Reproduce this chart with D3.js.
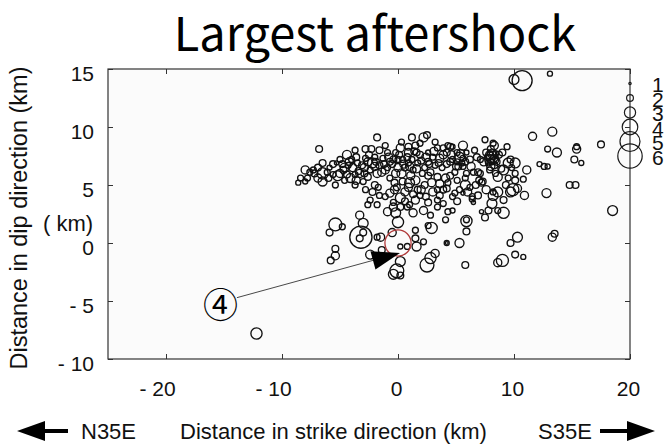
<!DOCTYPE html>
<html><head><meta charset="utf-8">
<script src="https://cdn.jsdelivr.net/npm/d3@7"></script>
<style>
body{margin:0;background:#fff}
svg{display:block}
text{font-family:"Liberation Sans",Arial,sans-serif;fill:#111}
</style>
</head><body>
<svg id="c" width="666" height="444"></svg>
<script>
// ---- data (km along strike / dip, magnitude) ----
const strikeKm = [
10.7,10.0,13.1,11.6,13.3,12.9,13.7,15.4,15.4,15.2,
15.8,17.5,12.2,12.6,12.9,14.8,15.3,12.8,18.5,10.9,
9.9,10.3,9.1,9.4,10.1,9.7,11.1,10.8,10.1,9.1,
5.6,6.4,7.2,8.2,8.1,9.1,9.7,5.9,5.9,5.9,
7.8,8.6,7.2,6.5,10.3,9.7,10.1,10.8,9.0,13.3,
13.5,5.3,4.2,4.2,8.6,7.5,-12.2,-5.4,-5.9,-4.8,
-3.2,-3.0,-3.3,-3.3,-3.0,-5.4,-5.4,-5.8,-2.4,-1.5,
-1.4,-0.5,-0.2,0.0,-0.4,0.2,0.8,1.5,1.6,1.5,
2.9,2.6,2.2,2.8,2.5,3.2,5.8,0.2,-0.1,-0.4,
0.2,4.3,-2.6,-1.8,-0.9,0.2,0.8,1.3,2.2,3.4,
4.7,-1.8,-6.8,-1.8,-8.0,-7.2,-8.6,-8.0,-7.8,-6.5,
-6.5,-6.5,-6.1,-5.9,-5.6,-5.3,-4.4,-4.6,-4.3,-3.9,
-4.1,-3.5,-3.3,-2.8,-2.3,-2.6,-2.2,-2.4,-1.8,-3.0,
-2.2,-1.7,-2.4,-0.9,-0.7,-1.1,-0.7,-1.1,-0.7,-0.3,
-0.4,1.2,2.5,2.2,1.9,0.3,0.2,0.9,1.6,2.6,
3.2,3.4,4.3,4.7,5.6,5.1,4.2,3.6,3.0,2.6,
5.3,5.6,5.1,5.9,7.5,8.3,6.9,7.3,8.4,8.6,
5.9,5.8,5.5,4.1,4.3,3.4,2.9,3.9,4.7,1.5,
1.0,0.3,2.1,1.7,0.6,0.2,1.5,2.6,3.4,3.9,
4.9,5.2,1.7,0.9,0.0,1.5,4.5,6.5,8.1,7.9,
8.3,7.8,8.4,8.0,7.7,8.5,8.1,8.2,8.2,9.5,
8.9,7.9,7.1,8.6,9.5,10.1,8.2,5.6,4.7,3.9,
4.2,5.1,5.8,6.4,-5.0,-4.7,-4.0,-3.7,-3.1,-2.8,
-2.0,-1.6,-1.3,-0.9,-0.4,-0.2,0.0,0.4,0.6,1.2,
1.3,1.9,2.3,2.8,3.2,3.8,4.5,4.9,6.2,6.6,
7.1,6.2,6.9,1.9,2.3,3.4,5.3,1.0,2.8,4.1,
-1.6,-2.0,-2.8,-3.7,-4.6,-5.4,-8.4,-7.3,-6.9,-5.2,
-3.7,-1.1,-1.6,0.9,
-4.8,-4.2,-3.6,-3.4,-2.9,-2.5,-2.0,-1.9,-1.4,-1.2,
-0.8,-0.5,-0.2,0.1,0.5,0.8,1.0,1.4,1.6,2.0,
2.4,2.7,3.1,3.5,3.9,4.2,4.6,5.0,5.4,5.8,
6.3,6.8,7.4,7.6,8.0,8.7,8.3,7.9,8.1,-0.3,
0.4,0.9,1.3,2.0,2.4,3.0,3.6,1.1,2.6,3.6,
4.5,0.6,-0.1,-6.0,-5.0,-4.4,-3.6,-2.6,-2.9,-6.9,
-7.6,-5.6,5.1,6.0,7.0,7.6,6.7,9.3,9.0,9.8];

const dipKm = [
14.0,14.1,14.6,9.2,9.6,8.1,7.8,8.1,8.3,7.2,
6.9,8.5,6.8,6.6,6.6,5.0,5.0,4.3,2.8,4.1,
4.6,4.7,2.6,8.3,6.9,7.2,6.3,5.5,6.0,6.3,
4.3,3.8,5.2,4.1,3.4,3.7,4.4,1.9,2.0,1.0,
2.8,2.8,2.7,3.5,0.5,0.0,-1.0,-1.2,-1.5,0.5,
0.8,0.0,0.0,0.0,-1.7,2.2,-7.8,1.6,0.9,1.4,
0.5,0.9,0.4,2.4,1.7,-0.5,-1.1,-1.5,-1.0,0.5,
-0.6,0.9,2.6,1.8,3.1,-0.3,-0.3,1.1,-0.3,0.4,
1.3,1.5,0.1,-1.3,-1.9,-0.9,-1.9,-1.6,-2.4,-2.7,
-2.8,2.7,3.3,3.3,2.7,3.1,3.1,2.6,2.8,3.1,
2.8,0.5,8.1,9.1,6.3,6.0,5.2,5.3,5.6,6.9,
6.0,5.3,6.1,6.5,5.9,6.9,7.6,6.5,6.7,6.5,
5.6,6.9,6.0,8.1,8.1,7.0,6.9,6.3,6.0,5.3,
4.4,4.8,3.7,7.8,7.0,6.3,5.6,4.0,4.3,5.2,
3.5,9.1,9.3,9.1,8.6,8.7,8.2,7.8,7.8,7.8,
8.7,8.2,8.4,8.3,8.4,7.8,7.8,7.3,7.4,7.0,
7.4,7.3,7.0,7.8,8.9,8.4,6.1,5.3,6.0,4.4,
6.0,5.6,6.9,5.6,5.2,5.7,5.2,4.6,4.0,5.4,
5.2,6.0,6.0,4.6,4.4,3.9,3.7,3.5,3.7,3.4,
4.3,6.6,6.9,6.9,7.2,8.4,8.3,6.1,7.4,7.6,
7.2,6.9,7.7,8.1,7.4,7.0,7.0,7.4,8.6,6.9,
6.4,6.3,6.0,5.7,5.6,5.4,4.4,6.6,7.2,8.2,
4.7,5.4,5.0,4.0,7.2,6.3,7.2,5.9,6.7,7.3,
7.4,6.7,7.3,6.5,7.2,7.8,6.5,7.2,6.5,7.2,
6.3,7.6,6.5,6.1,6.7,6.5,7.0,6.1,7.2,8.0,
7.2,4.8,4.1,4.1,5.0,4.6,4.6,3.3,2.4,2.0,
4.1,5.0,4.6,5.0,5.4,5.0,5.6,6.3,5.6,5.8,
8.0,8.4,8.0,8.3,
6.8,7.0,7.4,6.2,6.5,7.6,6.6,7.0,6.1,6.8,
7.4,6.8,6.0,7.6,6.8,7.4,6.6,7.9,6.4,7.1,
7.4,6.8,7.9,6.9,7.6,6.8,7.6,6.6,7.7,7.0,
6.6,7.4,7.0,7.8,6.6,7.6,6.7,7.2,7.7,4.6,
5.3,4.8,4.2,4.6,4.0,4.4,4.1,5.8,5.8,5.1,
5.8,3.6,4.8,5.6,6.0,5.9,5.4,5.7,6.0,6.5,
6.1,6.8,3.6,4.4,5.4,4.6,5.0,5.0,7.8,6.5];

const magnitude = [
5.0,2.7,1.6,2.3,2.5,1.8,2.5,2.3,1.8,2.0,
1.6,2.0,1.6,1.8,1.6,2.0,2.0,2.5,2.7,2.3,
3.2,2.3,3.0,1.8,2.7,2.0,2.3,1.8,1.8,2.7,
1.4,1.8,2.0,2.7,2.7,2.0,2.7,3.0,1.8,2.0,
2.0,1.8,1.4,1.4,2.7,2.0,2.0,1.6,3.2,2.3,
2.0,2.5,1.6,1.1,2.3,2.0,3.0,3.4,2.0,1.8,
5.5,2.0,2.0,2.3,2.7,2.0,2.3,2.0,2.5,2.3,
2.0,2.3,2.7,3.0,2.3,1.6,1.8,1.8,2.5,2.0,
3.0,1.8,1.8,3.0,3.6,2.3,2.0,2.7,3.6,2.7,
2.0,1.8,1.8,1.8,2.3,2.0,1.8,2.3,2.3,1.8,
1.6,1.8,2.0,2.0,2.3,2.0,1.6,1.6,1.8,2.0,
3.0,2.5,1.8,1.6,1.8,1.4,2.5,2.5,1.8,2.3,
2.5,1.8,2.3,2.0,2.0,2.3,2.7,1.8,2.3,1.8,
2.0,1.8,1.8,1.8,2.0,2.3,1.8,1.8,2.3,2.0,
1.8,2.0,2.0,2.5,1.8,1.8,2.3,2.3,2.0,1.6,
1.8,1.8,1.8,1.6,2.5,1.8,2.0,2.3,1.8,2.0,
2.7,1.8,1.8,1.6,1.8,2.3,2.0,2.0,1.8,2.7,
1.8,1.8,1.8,2.3,1.8,2.0,2.3,2.0,1.8,2.5,
2.7,2.5,1.8,2.0,2.3,2.7,2.3,2.0,1.8,1.8,
1.8,2.0,1.8,1.8,1.8,2.0,2.0,1.8,3.2,2.3,
2.5,1.8,1.8,2.0,1.8,2.0,1.8,1.6,1.8,2.7,
2.0,1.8,1.8,2.5,1.8,2.0,1.8,1.8,1.8,1.8,
2.0,1.8,2.7,1.8,1.8,2.0,1.8,1.8,2.0,1.8,
1.8,2.0,1.8,1.8,2.0,1.8,2.3,1.8,2.0,1.8,
1.8,2.0,1.8,2.0,1.8,1.8,2.0,1.8,2.0,1.8,
1.8,1.8,2.0,1.8,2.0,1.8,1.8,1.8,1.8,1.8,
1.8,2.0,1.8,1.8,1.8,1.8,1.8,1.8,2.3,2.7,
1.8,1.8,2.0,2.0,
2.0,2.3,2.0,2.0,2.3,2.0,2.3,2.0,2.3,2.0,
2.3,2.0,2.3,2.0,2.3,2.0,2.3,2.0,2.3,2.0,
2.3,2.0,2.3,2.0,2.3,2.0,2.3,2.0,2.3,2.0,
2.3,2.0,2.3,2.0,2.3,2.0,2.0,2.7,2.5,2.3,
2.0,2.3,2.0,2.3,2.0,2.3,2.0,2.3,2.0,2.3,
2.0,2.0,2.0,2.0,2.3,2.0,2.3,2.0,2.0,2.0,
1.8,2.0,2.0,2.3,2.0,2.3,2.0,2.0,2.0,1.8];

// largest aftershock (red circle)
const largestStrike = 0.0, largestDip = 0.0, largestMag = 6.4;
// magnitude legend
const legendMags = [1, 2, 3, 4, 5, 6];
// axis ticks
const xTicks = [-20, -10, 0, 10, 20];
const yTicks = [-10, -5, 0, 5, 10, 15];

// ---- layout ----
const svg = d3.select("#c");
const x = d3.scaleLinear().domain([-25, 20]).range([108, 630]);
const y = d3.scaleLinear().domain([-10, 15]).range([359, 69]);
const r = d3.scaleLinear().domain([1, 6]).range([1.2, 12.2]);
const fmt = d => d < 0 ? "- " + Math.abs(d) : String(d);

// title
svg.append("text").attr("x", 375).attr("y", 51).attr("text-anchor", "middle")
  .style("font-family", "'Noto Sans CJK JP','Noto Sans',sans-serif")
  .style("font-size", "47px").style("fill", "#000").text("Largest aftershock");

// plot background
svg.append("rect").attr("x", x(-25)).attr("y", y(15))
  .attr("width", x(20) - x(-25)).attr("height", y(-10) - y(15))
  .attr("fill", "#fbfbfb");

// axes (ticks inward)
const gL = svg.append("g").attr("transform", `translate(${x(-25)},0)`)
  .call(d3.axisLeft(y).tickValues(yTicks).tickSizeInner(-5).tickSizeOuter(0).tickPadding(14).tickFormat(fmt));
gL.selectAll("text").attr("y", 5).style("font-size", "21px")
  .style("font-family", "'Liberation Sans',Arial,sans-serif").attr("fill", "#111");
const gB = svg.append("g").attr("transform", `translate(0,${y(-10)})`)
  .call(d3.axisBottom(x).tickValues(xTicks).tickSizeInner(-5).tickSizeOuter(0).tickPadding(22).tickFormat(fmt));
gB.selectAll("text").style("font-size", "21px")
  .style("font-family", "'Liberation Sans',Arial,sans-serif").attr("fill", "#111")
  .attr("dx", d => d < 0 ? -9 : -2);
const gT = svg.append("g").attr("transform", `translate(0,${y(15)})`)
  .call(d3.axisTop(x).tickValues(xTicks).tickSizeInner(-5).tickSizeOuter(0).tickFormat(""));
const gR = svg.append("g").attr("transform", `translate(${x(20)},0)`)
  .call(d3.axisRight(y).tickValues(yTicks).tickSizeInner(-5).tickSizeOuter(0).tickFormat(""));
[gL, gB, gT, gR].forEach(g => {
  g.select(".domain").remove();
  g.selectAll(".tick line").attr("stroke", "#333");
});

// frame
svg.append("rect").attr("x", x(-25)).attr("y", y(15))
  .attr("width", x(20) - x(-25)).attr("height", y(-10) - y(15))
  .attr("fill", "none").attr("stroke", "#333").attr("stroke-width", 1.2);

// aftershocks
const quakes = strikeKm.map((s, i) => ({s, d: dipKm[i], m: magnitude[i]}));
svg.append("g").selectAll("circle").data(quakes).join("circle")
  .attr("cx", q => x(q.s)).attr("cy", q => y(q.d)).attr("r", q => r(q.m))
  .attr("fill", "none").attr("stroke", "#111").attr("stroke-width", 1.35);

// largest aftershock
svg.append("circle").attr("cx", x(largestStrike)).attr("cy", y(largestDip)).attr("r", r(largestMag))
  .attr("fill", "none").attr("stroke", "#b03a3a").attr("stroke-width", 1.3);

// magnitude legend on the right axis
const legY = m => y(13.75 - 1.25 * (m - 1));
svg.append("g").selectAll("circle").data(legendMags).join("circle")
  .attr("cx", x(20)).attr("cy", legY).attr("r", m => r(m))
  .attr("fill", "none").attr("stroke", "#1a1a1a").attr("stroke-width", 1.2);
svg.append("g").selectAll("text").data(legendMags).join("text")
  .attr("x", 652).attr("y", m => legY(m) + 1).attr("dominant-baseline", "central")
  .style("font-size", "21px").text(d => d);

// annotation arrow ④ -> fault
const labelKm = [-15.3, -5.1], tipKm = [0.17, -0.86];
const lx = x(labelKm[0]), ly = y(labelKm[1]), tx = x(tipKm[0]), ty = y(tipKm[1]);
const len = Math.hypot(tx - lx, ty - ly), ux = (tx - lx) / len, uy = (ty - ly) / len;
const headL = 28, headW = 9.5;
const bx = tx - headL * ux, by = ty - headL * uy;
svg.append("line").attr("x1", lx + 17 * ux).attr("y1", ly + 17 * uy).attr("x2", bx).attr("y2", by)
  .attr("stroke", "#333").attr("stroke-width", 0.9);
svg.append("path").attr("d", `M${tx},${ty}L${bx - headW * uy},${by + headW * ux}L${bx + headW * uy},${by - headW * ux}Z`)
  .attr("fill", "#000");
svg.append("text").attr("x", lx).attr("y", ly).attr("text-anchor", "middle").attr("dominant-baseline", "central")
  .style("font-family", "'Noto Sans CJK JP',sans-serif").style("font-size", "35px").style("fill", "#000").text("④");

// y axis title
svg.append("text").attr("transform", "translate(27,218) rotate(-90)").attr("text-anchor", "middle")
  .style("font-size", "23.5px").text("Distance in dip direction  (km)");
svg.append("text").attr("x", 43).attr("y", 231).style("font-size", "22px").text("( km)");

// bottom direction labels
const arrowY = 431;
svg.append("path").attr("d", `M17,${arrowY}L45,${arrowY - 10}L45,${arrowY - 2}L68,${arrowY - 2}L68,${arrowY + 2}L45,${arrowY + 2}L45,${arrowY + 10}Z`).attr("fill", "#000");
svg.append("path").attr("d", `M655,${arrowY}L627,${arrowY - 10}L627,${arrowY - 2}L600,${arrowY - 2}L600,${arrowY + 2}L627,${arrowY + 2}L627,${arrowY + 10}Z`).attr("fill", "#000");
svg.append("text").attr("x", 81).attr("y", arrowY + 8).style("font-size", "22px").text("N35E");
svg.append("text").attr("x", 180).attr("y", arrowY + 8).style("font-size", "22px").text("Distance in strike direction  (km)");
svg.append("text").attr("x", 538).attr("y", arrowY + 8).style("font-size", "22px").text("S35E");
</script>
</body></html>
